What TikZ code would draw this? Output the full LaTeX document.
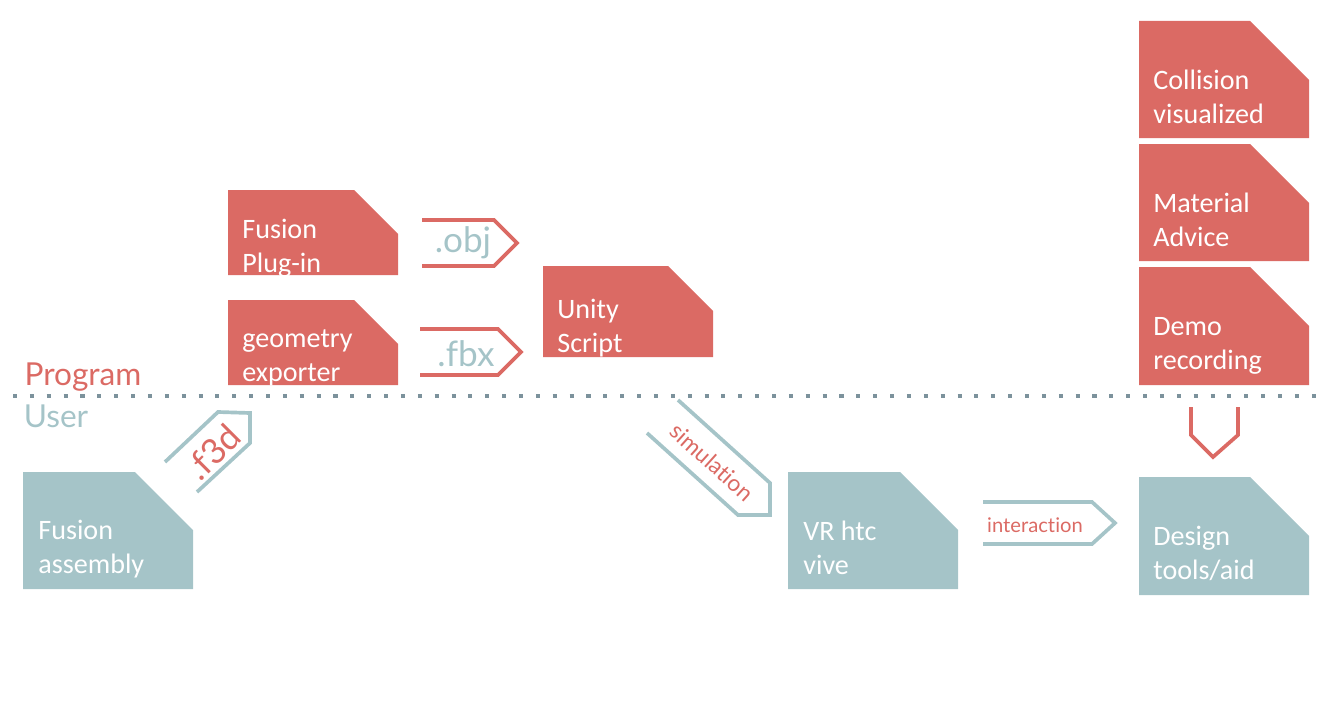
\documentclass[tikz,border=0pt]{standalone}
\usepackage{fontspec}
\setmainfont{Carlito}
\newfontfamily\thinfont[Ligatures=NoCommon]{Lato}
\definecolor{progred}{HTML}{DB6A64}
\definecolor{userteal}{HTML}{A5C4C8}
\definecolor{dotgray}{HTML}{7C929C}

% snipped box: x1, y1, x2, y2, cut, colour
\newcommand{\docshape}[6]{\fill[#6] (#1,#2) -- ({#3-#5},#2) -- (#3,{#2+#5}) -- (#3,#4) -- (#1,#4) -- cycle;}

\begin{document}
\begin{tikzpicture}[x=0.02cm,y=-0.02cm,
	doctext/.style={anchor=west,align=left,text=white,inner sep=0pt,font=\fontsize{16}{19.3}\selectfont},
	tag/.style={line width=2.1pt,line join=miter},
	taglabel/.style={inner sep=0pt,font=\thinfont\fontsize{20}{24}\selectfont},
	smalllabel/.style={inner sep=0pt,font=\thinfont\fontsize{11.5}{14}\selectfont},
	sidelabel/.style={inner sep=0pt,font=\thinfont\fontsize{18}{22}\selectfont}]

	\useasboundingbox (0,0) rectangle (1334,706);

	% program side
	\docshape{228}{190}{398}{275}{44}{progred}
	\node[doctext] (plugin) at (242,248) {Fusion\\Plug-in};

	\docshape{228}{300}{398}{385}{44}{progred}
	\node[doctext] (exporter) at (242,358) {geometry\\exporter};

	\docshape{543}{266}{713}{357}{45}{progred}
	\node[doctext] (unity) at (557,328) {Unity\\Script};

	\docshape{1139}{21}{1309}{138}{59}{progred}
	\node[doctext] (collision) at (1153,97) {Collision\\visualized};

	\docshape{1139}{144}{1309}{261}{59}{progred}
	\node[doctext] (material) at (1153,220) {Material\\Advice};

	\docshape{1139}{267}{1309}{385}{59}{progred}
	\node[doctext] (demo) at (1153,346) {Demo\\recording};

	% user side
	\docshape{23}{472}{193}{589}{58}{userteal}
	\node[doctext] (assembly) at (38,549) {Fusion\\assembly};

	\docshape{788}{472}{958}{589}{58}{userteal}
	\node[doctext] (vive) at (803,548) {VR htc\\vive};

	\docshape{1139}{477}{1309}{595}{59}{userteal}
	\node[doctext] (design) at (1153,553) {Design\\tools/aid};

	% divider
	\draw[dotgray,line width=2.3pt,dash pattern=on 2.3pt off 7.3pt] (13,396) -- (1325,396);
	\node[sidelabel,text=progred] (program) at (83,377) {Program};
	\node[sidelabel,text=userteal] (user) at (56,416) {User};

	% tags
	\draw[tag,progred] (422,220) -- (494,220) -- (517,243) -- (494,266) -- (422,266);
	\node[taglabel,text=userteal] (obj) at (463,243) {.obj};

	\draw[tag,progred] (420,329) -- (498,329) -- (521,352) -- (498,375) -- (420,375);
	\node[taglabel,text=userteal] (fbx) at (466,354) {.fbx};

	\draw[tag,userteal] (165,462) -- (218,412) -- (250,413) -- (250,443) -- (197,492);
	\node[taglabel,text=progred,rotate=45] (f3d) at (213,452) {.f3d};

	\draw[tag,userteal] (678,400) -- (770,483) -- (770,515) -- (738,515) -- (647,433);
	\node[smalllabel,text=progred,rotate=-42,font=\thinfont\fontsize{13}{16}\selectfont] (simulation) at (712,462) {simulation};

	\draw[tag,userteal] (983,502) -- (1092,502) -- (1115,523) -- (1092,544) -- (983,544);
	\node[smalllabel,text=progred] (interaction) at (1035,525) {interaction};

	\draw[tag,progred] (1191,407) -- (1191,435) -- (1213,457) -- (1238,435) -- (1238,407);

\end{tikzpicture}
\end{document}
